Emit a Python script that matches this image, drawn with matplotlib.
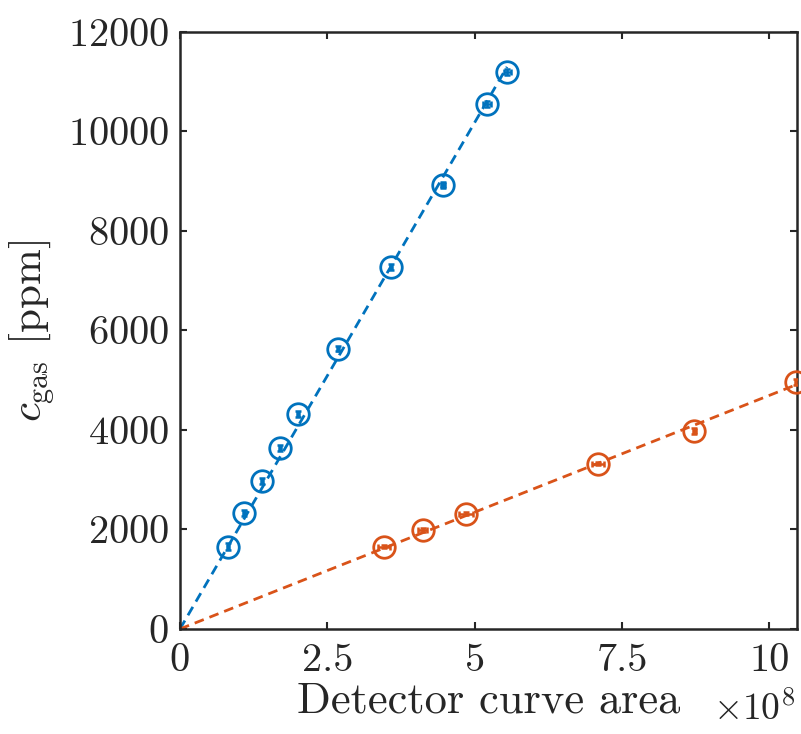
import numpy as np
import matplotlib
matplotlib.use('Agg')
import matplotlib.pyplot as plt

plt.rcParams['font.family'] = 'cmr10'
plt.rcParams['mathtext.fontset'] = 'cm'
plt.rcParams['axes.formatter.use_mathtext'] = True

# detector curve area in units of 1e8, concentration in ppm
blue_area = [0.81, 1.09, 1.39, 1.70, 2.00, 2.68, 3.58, 4.46, 5.21, 5.55]
blue_conc = [1650, 2330, 2980, 3640, 4320, 5630, 7280, 8920, 10550, 11200]
blue_xerr = [0.02, 0.02, 0.02, 0.02, 0.02, 0.02, 0.02, 0.03, 0.06, 0.06]
blue_yerr = [70, 60, 60, 60, 60, 50, 60, 60, 60, 60]

orange_area = [3.46, 4.12, 4.85, 7.09, 8.73, 10.46]
orange_conc = [1650, 1980, 2320, 3320, 3980, 4970]
orange_xerr = [0.10, 0.08, 0.12, 0.10, 0.02, 0.03]
orange_yerr = [30, 40, 30, 30, 60, 60]

xticks = [0, 2.5, 5, 7.5, 10]
xticklabels = ['0', '2.5', '5', '7.5', '10']
yticks = [0, 2000, 4000, 6000, 8000, 10000, 12000]

blue = '#0072BD'
orange = '#D95319'
axcol = '#262626'

fig = plt.figure(figsize=(8.01, 7.34), dpi=100)
ax = fig.add_axes([0.2247, 0.1431, 0.9950 - 0.2247, 0.9564 - 0.1431])

for x, y, xe, ye, c in [(blue_area, blue_conc, blue_xerr, blue_yerr, blue),
                        (orange_area, orange_conc, orange_xerr, orange_yerr, orange)]:
    x = np.array(x)
    y = np.array(y)
    # linear fit through the origin
    k = np.sum(x * y) / np.sum(x * x)
    xf = np.array([0, x.max()])
    ax.plot(xf, k * xf, '--', color=c, lw=2.0, dashes=(3.5, 2.2), zorder=2)
    ax.errorbar(x, y, xerr=xe, yerr=ye, fmt='none', ecolor=c, elinewidth=1.8,
                capsize=2.4, capthick=1.8, zorder=3)
    ax.plot(x, y, 'o', mfc='none', mec=c, ms=15.5, mew=2.0, zorder=4, clip_on=False)

ax.set_xlim(0, 10.47)
ax.set_ylim(0, 12000)
ax.set_xticks(xticks)
ax.set_xticklabels(xticklabels)
ax.set_yticks(yticks)
ax.tick_params(direction='in', length=5, width=1.5, colors=axcol, labelsize=29,
               top=True, right=True, pad=8)
ax.tick_params(axis='x', pad=10)
for s in ax.spines.values():
    s.set_linewidth(1.8)
    s.set_color(axcol)

ax.set_xlabel('Detector curve area', fontsize=32, color=axcol, labelpad=2)
ax.set_ylabel(r'$c_{\mathrm{gas}}$ [ppm]', fontsize=31, color=axcol, labelpad=8)
ax.text(0.997, -0.153, r'$\times 10^{8}$', transform=ax.transAxes, ha='right',
        va='baseline', fontsize=27, color=axcol)

fig.savefig('out.png', dpi=100)
